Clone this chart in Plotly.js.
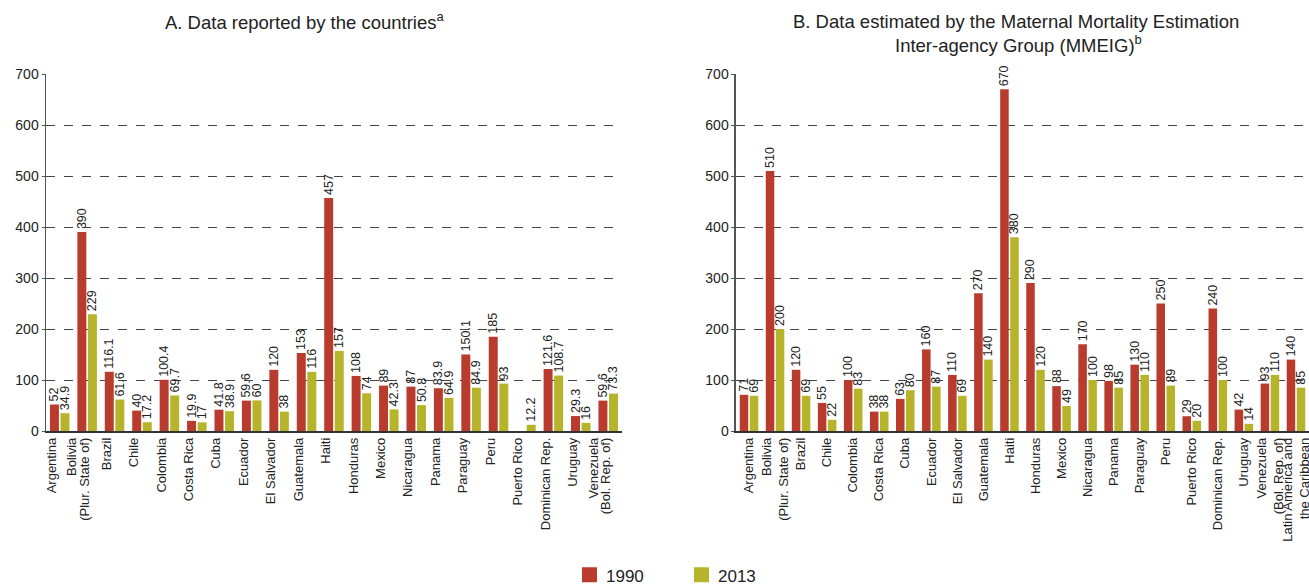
<!DOCTYPE html>
<html>
<head>
<meta charset="utf-8">
<script src="https://cdn.plot.ly/plotly-3.0.1.min.js"></script>
<style>html,body{margin:0;padding:0;background:#fff;}#chart{width:1309px;height:585px;}</style>
</head>
<body>
<div id="chart"></div>
<script>
// ---- Data ----
const countriesA = ["Argentina","Bolivia<br>(Plur. State of)","Brazil","Chile","Colombia","Costa Rica","Cuba","Ecuador","El Salvador","Guatemala","Haiti","Honduras","Mexico","Nicaragua","Panama","Paraguay","Peru","Puerto Rico","Dominican Rep.","Uruguay","Venezuela<br>(Bol. Rep. of)"];
const reported1990 = [52,390,116.1,40,100.4,19.9,41.8,59.6,120,153,457,108,89,87,83.9,150.1,185,null,121.6,29.3,59.6];
const reported2013 = [34.9,229,61.6,17.2,69.7,17,38.9,60,38,116,157,74,42.3,50.8,64.9,84.9,93,12.2,108.7,16,73.3];

const countriesB = ["Argentina","Bolivia<br>(Plur. State of)","Brazil","Chile","Colombia","Costa Rica","Cuba","Ecuador","El Salvador","Guatemala","Haiti","Honduras","Mexico","Nicaragua","Panama","Paraguay","Peru","Puerto Rico","Dominican Rep.","Uruguay","Venezuela<br>(Bol. Rep. of)","Latin America and<br>the Caribbean"];
const estimated1990 = [71,510,120,55,100,38,63,160,110,270,670,290,88,170,98,130,250,29,240,42,93,140];
const estimated2013 = [69,200,69,22,83,38,80,87,69,140,380,120,49,100,85,110,89,20,100,14,110,85];

const yTicks = [0,100,200,300,400,500,600,700];
const seriesNames = ["1990","2013"];

// ---- Style ----
const RED = "#B93B2E", GREEN = "#B6B42B";
const FONT = "Liberation Sans, Arial, sans-serif";
const TXT = "#222";
const LEGEND_TEXT_CENTER_Y = 576;

function bars(x, y, name, color, xa, ya, show) {
  return {
    type: "bar", x: x, y: y, name: name, xaxis: xa, yaxis: ya,
    marker: {color: color, line: {width: 0}},
    text: y.map(v => v === null ? "" : String(v)),
    textposition: "outside", textangle: -90, constraintext: "none",
    textfont: {family: FONT, size: 12.5, color: TXT},
    cliponaxis: false, showlegend: show, hoverinfo: "x+y"
  };
}

const data = [
  bars(countriesA, reported1990, seriesNames[0], RED, "x", "y", true),
  bars(countriesA, reported2013, seriesNames[1], GREEN, "x", "y", true),
  bars(countriesB, estimated1990, seriesNames[0], RED, "x2", "y2", false),
  bars(countriesB, estimated2013, seriesNames[1], GREEN, "x2", "y2", false)
];

const yaxisBase = {
  range: [0, 700], tickvals: yTicks, ticktext: yTicks.map(String),
  showgrid: true, gridcolor: "#444", gridwidth: 1, griddash: "dash",
  zeroline: false, showline: true, linecolor: "#555", linewidth: 1.5,
  ticks: "outside", ticklen: 3, tickcolor: "#555",
  tickfont: {family: FONT, size: 14, color: TXT}, fixedrange: true
};
const xaxisBase = {
  type: "category", tickangle: -90, showgrid: false, zeroline: false,
  showline: true, linecolor: "#333", linewidth: 1.5, ticks: "",
  tickfont: {family: FONT, size: 13, color: TXT}, fixedrange: true, automargin: false
};

const layout = {
  width: 1309, height: 585,
  margin: {l: 46, r: 0, t: 74, b: 154},
  paper_bgcolor: "#fff", plot_bgcolor: "#fff",
  font: {family: FONT, color: TXT},
  barmode: "group", bargap: 0.23, bargroupgap: 0.15,
  xaxis: Object.assign({}, xaxisBase, {domain: [0, 0.456], range: [-0.5, 20.5], anchor: "y", ticklabelshift: -8}),
  yaxis: Object.assign({}, yaxisBase, {domain: [0, 1], anchor: "x"}),
  xaxis2: Object.assign({}, xaxisBase, {domain: [0.5463, 1], range: [-0.5, 21.5], anchor: "y2"}),
  yaxis2: Object.assign({}, yaxisBase, {domain: [0, 1], anchor: "x2"}),
  showlegend: true,
  legend: {orientation: "h", x: 0.4117, xanchor: "left", y: -0.34, yanchor: "middle",
           entrywidth: 67, entrywidthmode: "pixels",
           font: {family: FONT, size: 17, color: TXT}, itemwidth: 30, traceorder: "normal"},
  annotations: [
    {text: "A. Data reported by the countries<sup>a</sup>", xref: "paper", yref: "paper",
     x: 0.2043, y: 1.148, xanchor: "center", yanchor: "middle", showarrow: false,
     font: {family: FONT, size: 18.5, color: TXT}},
    {text: "B. Data estimated by the Maternal Mortality Estimation", xref: "paper", yref: "paper",
     x: 0.768, y: 1.148, xanchor: "center", yanchor: "middle", showarrow: false,
     font: {family: FONT, size: 18.5, color: TXT}},
    {text: "Inter-agency Group (MMEIG)<sup>b</sup>", xref: "paper", yref: "paper",
     x: 0.770, y: 1.084, xanchor: "center", yanchor: "middle", showarrow: false,
     font: {family: FONT, size: 18.5, color: TXT}}
  ]
};

Plotly.newPlot("chart", data, layout, {displayModeBar: false, staticPlot: true}).then(function (gd) {
  // tighten multi-line category labels
  gd.querySelectorAll(".xtick text").forEach(function (t) {
    var lines = t.querySelectorAll("tspan.line");
    if (lines.length > 1) {
      lines.forEach(function (ln, i) {
        var d = ln.getAttribute("dy") || "0em";
        var v = parseFloat(d) || 0;
        if (i === 0) ln.setAttribute("dy", (v + 0.12) + "em");
        else ln.setAttribute("dy", "1.05em");
      });
    }
  });
  // square legend swatches
  gd.querySelectorAll(".legendpoints path").forEach(function (p) {
    p.setAttribute("d", "M-4,-7.5h15v15h-15z");
  });
  // nudge legend so its text sits where the reference has it (without squeezing the plot)
  var leg = gd.querySelector("g.legend");
  var txt = gd.querySelector("g.legend text.legendtext");
  if (leg && txt) {
    var host = gd.getBoundingClientRect();
    var r = txt.getBoundingClientRect();
    var cy = r.top + r.height / 2 - host.top;
    var dy = LEGEND_TEXT_CENTER_Y - cy;
    var tr = leg.getAttribute("transform") || "";
    var m = tr.match(/translate\(\s*([-\d.]+)[ ,]+([-\d.]+)\s*\)/);
    if (m) leg.setAttribute("transform", "translate(" + m[1] + "," + (parseFloat(m[2]) + dy) + ")");
  }
});
</script>
</body>
</html>
